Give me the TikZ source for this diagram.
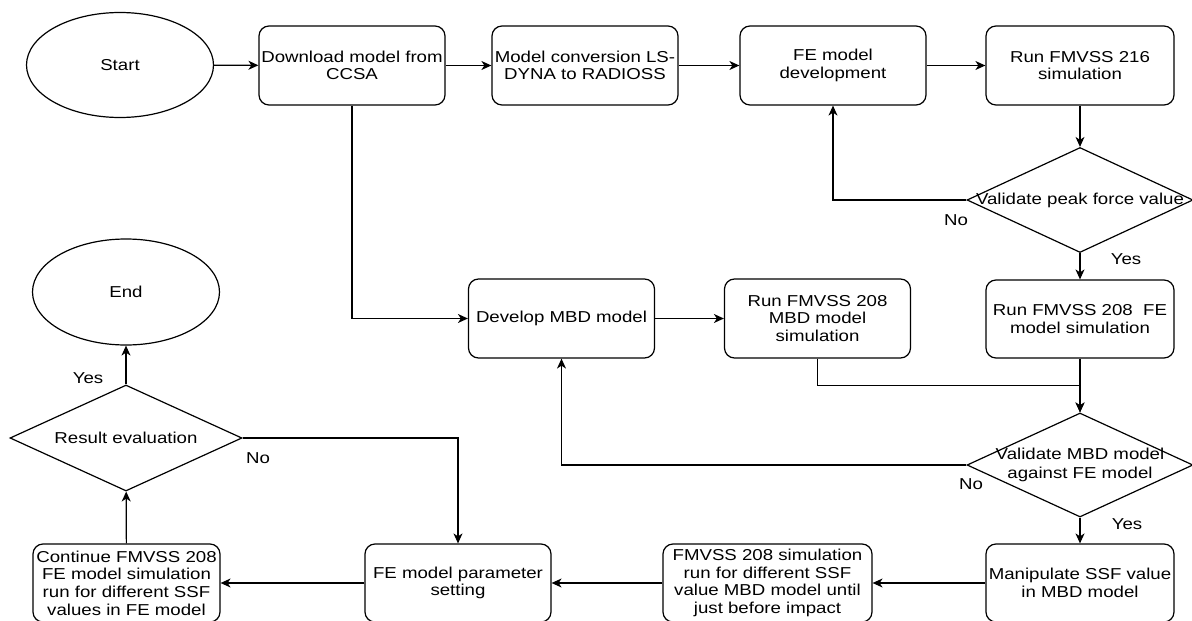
\documentclass[tikz,border=0pt]{standalone}
\usepackage{fontspec}
\setmainfont{Liberation Sans}[FakeStretch=1.18]
\usetikzlibrary{shapes.geometric,arrows.meta}
\begin{document}
\begin{tikzpicture}[x=1pt,y=-1pt,
  font=\fontsize{15.8}{17.7}\selectfont,
  proc/.style={draw, line width=1.2pt, rounded corners=10pt, minimum width=186pt, minimum height=79pt, align=center, inner sep=1pt},
  term/.style={draw, ellipse, line width=1.2pt, minimum width=187pt, minimum height=105pt, inner sep=0pt},
  dec/.style={draw, diamond, line width=1.2pt, inner sep=0pt},
  conn/.style={line width=1.2pt, -{Stealth[length=10pt,width=9pt,inset=3pt]}},
  lab/.style={inner sep=0pt}]
\fill[white] (0,0) rectangle (1192,621);
\useasboundingbox (0,0) rectangle (1192,621);
% top row
\node[term] (start) at (120,65) {Start};
\node[proc] (dl) at (352,65.5) {Download model from\\CCSA};
\node[proc] (conv) at (585,65.5) {Model conversion LS-\\DYNA to RADIOSS};
\node[proc] (fedev) at (833,65.5) {FE model\\development};
\node[proc, minimum width=188pt] (r216) at (1080,65.5) {Run FMVSS 216\\simulation};
% right column
\node[dec, minimum width=226pt, minimum height=105pt, label={center:Validate peak force value}] (d1) at (1080,200) {};
\node[proc, minimum width=188pt, minimum height=78pt] (r208fe) at (1080,319) {Run FMVSS 208\ \ FE\\model simulation};
\node[dec, minimum width=226pt, minimum height=104pt, label={[align=center, inner sep=0pt]center:Validate MBD model\\[1pt]against FE model}] (d2) at (1080,465) {};
% middle row
\node[proc] (mbd) at (561.5,318.5) {Develop MBD model};
\node[proc] (rmbd) at (817.5,318.5) {Run FMVSS 208\\MBD model\\simulation};
% bottom row
\node[proc, minimum width=188pt, minimum height=78pt] (manip) at (1080,583) {Manipulate SSF value\\in MBD model};
\node[proc, minimum width=209pt, minimum height=78pt] (fmv) at (767.5,583) {FMVSS 208 simulation\\run for different SSF\\value MBD model until\\just before impact};
\node[proc, minimum height=78pt] (fep) at (458,583) {FE model parameter\\setting};
\node[proc, minimum width=187pt, minimum height=78pt] (cont) at (126.5,583) {Continue FMVSS 208\\FE model simulation\\run for different SSF\\values in FE model};
% left column
\node[dec, minimum width=232pt, minimum height=106pt, label={center:Result evaluation}] (res) at (126,438) {};
\node[term, minimum height=106pt] (endn) at (126,292) {End};
% connectors
\draw[conn] (start) -- (dl);
\draw[conn] (dl) -- (conv);
\draw[conn] (conv) -- (fedev);
\draw[conn] (fedev) -- (r216);
\draw[conn] (r216) -- (d1);
\draw[conn] (d1.west) -| (fedev.south);
\draw[conn] (d1) -- (r208fe);
\draw[conn] (r208fe) -- (d2);
\draw[conn] (rmbd.south) -- ++(0,27) -| (d2.north);
\draw[conn] (dl.south) |- (mbd.west);
\draw[conn] (mbd) -- (rmbd);
\draw[conn] (d2.west) -| (mbd.south);
\draw[conn] (d2) -- (manip);
\draw[conn] (manip) -- (fmv);
\draw[conn] (fmv) -- (fep);
\draw[conn] (fep) -- (cont);
\draw[conn] (cont) -- (res);
\draw[conn] (res) -- (endn);
\draw[conn] (res.east) -| (fep.north);
% labels
\node[lab] (no1) at (956,220) {No};
\node[lab] (yes1) at (1126,259) {Yes};
\node[lab] (no2) at (971,484) {No};
\node[lab] (yes2) at (1127,524) {Yes};
\node[lab] (yes3) at (88,378) {Yes};
\node[lab] (no3) at (258,458) {No};
\end{tikzpicture}
\end{document}
